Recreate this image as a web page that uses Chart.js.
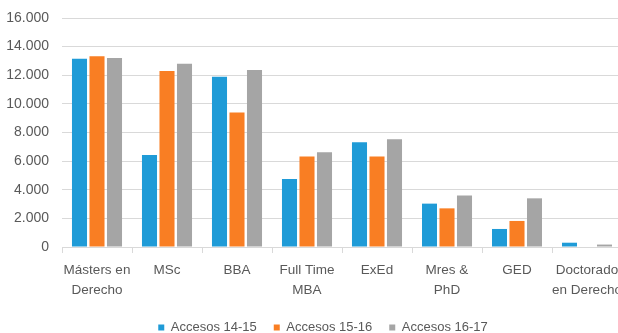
<!DOCTYPE html>
<html>
<head>
<meta charset="utf-8">
<script src="https://cdn.jsdelivr.net/npm/chart.js@4/dist/chart.umd.min.js"></script>
<style>
    html, body { margin: 0; padding: 0; background: #fff; overflow: hidden; }
    #wrap { width: 618px; height: 333px; overflow: hidden; }
</style>
</head>
<body>
<div id="wrap"><canvas id="chart" width="646" height="344"></canvas></div>
<script>
var categories = [
    ['Másters en', 'Derecho'], 'MSc', 'BBA', ['Full Time', 'MBA'],
    'ExEd', ['Mres &', 'PhD'], 'GED', ['Doctorado', 'en Derecho']
];
var seriesNames = ['Accesos 14-15', 'Accesos 15-16', 'Accesos 16-17'];
var acc1415 = [13150, 6430, 11900, 4750, 7320, 3030, 1260, 300];
var acc1516 = [13330, 12300, 9400, 6320, 6320, 2700, 1820, 0];
var acc1617 = [13200, 12800, 12370, 6620, 7530, 3590, 3400, 170];
var yTicks = [0, 2000, 4000, 6000, 8000, 10000, 12000, 14000, 16000];

var colors = ['#1F9BD7', '#F97E23', '#A5A5A5'];
var textColor = '#595959';
var gridColor = '#D9D9D9';
var family = '"Liberation Sans", Arial, sans-serif';

//thousands with a dot, as in the original:
function fmt(v) {
    return String(v).replace(/\B(?=(\d{3})+(?!\d))/g, '.');
}

var values = [acc1415, acc1516, acc1617];
var datasets = [];
for (var i = 0; i < values.length; i++) {
    datasets.push({
        label: seriesNames[i],
        data: values[i],
        backgroundColor: colors[i],
        borderWidth: 0,
        categoryPercentage: 0.75,
        barPercentage: 0.86
    });
}

new Chart(document.getElementById('chart'), {
    type: 'bar',
    data: { labels: categories, datasets: datasets },
    options: {
        responsive: false,
        animation: false,
        devicePixelRatio: 1,
        layout: { padding: { top: 18, right: 0, left: 0, bottom: 0 } },
        plugins: {
            tooltip: { enabled: false },
            legend: {
                position: 'bottom',
                labels: {
                    boxWidth: 6,
                    boxHeight: 6,
                    padding: 17,
                    color: textColor,
                    font: { family: family, size: 13 }
                }
            }
        },
        scales: {
            x: {
                grid: {
                    offset: true,
                    drawOnChartArea: false,
                    drawTicks: true,
                    tickLength: 6,
                    color: gridColor
                },
                border: { display: true, color: gridColor },
                ticks: {
                    color: textColor,
                    font: { family: family, size: 13.5, lineHeight: 1.48 },
                    padding: 7,
                    maxRotation: 0,
                    autoSkip: false
                },
                afterFit: function(scale) { scale.height = 57; }
            },
            y: {
                min: 0,
                max: yTicks[yTicks.length - 1],
                afterBuildTicks: function(scale) {
                    scale.ticks = yTicks.map(function(v) { return { value: v }; });
                },
                //invisible tick marks make the gap before the labels
                //(tick padding would also push the plot top down)
                grid: { color: gridColor, drawTicks: true, tickLength: 9, tickColor: 'rgba(0,0,0,0)' },
                border: { display: false },
                ticks: {
                    color: textColor,
                    font: { family: family, size: 14 },
                    padding: 4,
                    callback: function(v) { return fmt(v); }
                },
                afterFit: function(scale) { scale.width = 62; }
            },
            //empty axis on the right: keeps the plot narrower than the legend row
            y2: {
                position: 'right',
                grid: { display: false },
                border: { display: false },
                ticks: { display: false },
                afterFit: function(scale) { scale.width = 24; }
            }
        }
    }
});
</script>
</body>
</html>
